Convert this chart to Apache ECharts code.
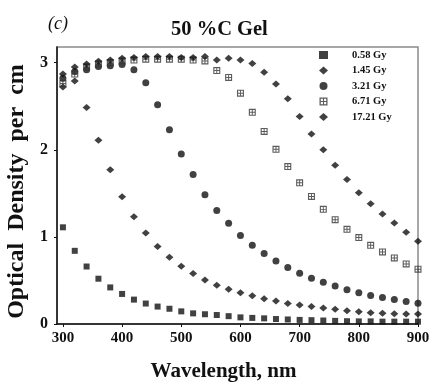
<!DOCTYPE html>
<html>
<head>
<meta charset="utf-8">
<script src="https://cdn.jsdelivr.net/npm/echarts@6/dist/echarts.min.js"></script>
<style>
html,body{margin:0;padding:0;background:#fff;}
#chart{width:441px;height:387px;}
</style>
</head>
<body>
<div id="chart"></div>
<script>
// Wavelengths (nm)
const wavelengths = [300,320,340,360,380,400,420,440,460,480,500,520,540,560,580,600,620,640,660,680,700,720,740,760,780,800,820,840,860,880,900];
// Optical density per cm for each dose
const od058 = [1.11,0.84,0.66,0.52,0.42,0.345,0.28,0.235,0.20,0.175,0.145,0.122,0.112,0.103,0.09,0.076,0.07,0.065,0.057,0.052,0.047,0.044,0.04,0.036,0.032,0.03,0.03,0.027,0.027,0.027,0.027];
const od145 = [2.72,2.79,2.486,2.11,1.77,1.46,1.23,1.045,0.89,0.767,0.664,0.58,0.505,0.446,0.40,0.358,0.324,0.29,0.263,0.236,0.217,0.20,0.183,0.168,0.152,0.141,0.13,0.122,0.118,0.114,0.114];
const od321 = [2.82,2.90,2.92,2.955,2.965,2.98,2.918,2.77,2.517,2.231,1.953,1.716,1.484,1.304,1.156,1.015,0.904,0.809,0.724,0.649,0.584,0.526,0.48,0.435,0.392,0.358,0.328,0.303,0.28,0.258,0.238];
const od671 = [2.76,2.87,2.95,2.985,3.0,3.02,3.03,3.04,3.04,3.04,3.04,3.03,3.02,2.91,2.83,2.65,2.43,2.21,2.006,1.808,1.621,1.465,1.316,1.198,1.087,0.992,0.904,0.827,0.759,0.69,0.629];
const od1721 = [2.87,2.95,2.985,3.015,3.03,3.05,3.06,3.07,3.07,3.07,3.06,3.06,3.07,3.03,3.05,3.03,2.99,2.89,2.754,2.586,2.383,2.18,1.999,1.823,1.659,1.507,1.381,1.262,1.159,1.053,0.95];
const seriesNames = ['0.58 Gy','1.45 Gy','3.21 Gy','6.71 Gy','17.21 Gy'];
const xTicks = [300,400,500,600,700,800,900];
const yTicks = [0,1,2,3];

const serif = "'Liberation Serif','DejaVu Serif',serif";
const ink = '#111';
const boxPlus = 'path://M0 0L10 0L10 10L0 10Z M1.6 1.6L1.6 4.3L4.3 4.3L4.3 1.6Z M5.7 1.6L5.7 4.3L8.4 4.3L8.4 1.6Z M1.6 5.7L1.6 8.4L4.3 8.4L4.3 5.7Z M5.7 5.7L5.7 8.4L8.4 8.4L8.4 5.7Z';
const symbols = ['rect','diamond','circle',boxPlus,'diamond'];
const sizes = [6,[8,7],7,7,[8,7]];
const allData = [od058, od145, od321, od671, od1721];

const chart = echarts.init(document.getElementById('chart'), null, {renderer:'canvas'});
chart.setOption({
  animation:false,
  backgroundColor:'#fff',
  title:[
    {text:'(c)', left:43, top:10, textStyle:{fontFamily:serif, fontStyle:'italic', fontWeight:'normal', fontSize:18, color:ink}},
    {text:'50 %C Gel', left:166, top:14, textStyle:{fontFamily:serif, fontWeight:'bold', fontSize:20.5, color:ink}}
  ],
  grid:{left:57, right:23, top:47, bottom:63, show:true, borderColor:'#8a8a8a', borderWidth:1.5, backgroundColor:'transparent', containLabel:false, outerBoundsMode:'none'},
  legend:{
    orient:'vertical', left:319, top:49, itemWidth:9, itemHeight:8, itemGap:3.5,
    padding:0,
    textStyle:{fontFamily:serif, fontWeight:'bold', fontSize:10.5, color:ink, lineHeight:12, padding:[0,0,0,19]},
    data: seriesNames.map((n,i)=>({name:n, icon: symbols[i]}))
  },
  xAxis:{
    type:'value', min:290, max:900,
    axisLine:{show:true, lineStyle:{color:ink, width:1.5}},
    axisTick:{show:true, length:3, customValues:xTicks, lineStyle:{color:ink}},
    axisLabel:{customValues:xTicks, margin:7, fontFamily:serif, fontWeight:'bold', fontSize:15, color:ink},
    splitLine:{show:false},
    name:'Wavelength, nm', nameLocation:'middle', nameGap:37,
    nameTextStyle:{fontFamily:serif, fontWeight:'bold', fontSize:21, color:ink, padding:[0,28,0,0]}
  },
  yAxis:{
    type:'value', min:0, max:3.18,
    axisLine:{show:true, lineStyle:{color:ink, width:1.5}},
    axisTick:{show:true, length:3, customValues:yTicks, lineStyle:{color:ink}},
    axisLabel:{customValues:yTicks, margin:9, fontFamily:serif, fontWeight:'bold', fontSize:16, color:ink},
    splitLine:{show:false},
    name:'Optical  Density  per  cm', nameLocation:'middle', nameGap:28,
    nameTextStyle:{fontFamily:serif, fontWeight:'bold', fontSize:24, color:ink, padding:[0,12,0,0]}
  },
  series: allData.map((arr,i)=>({
    type:'scatter',
    name:seriesNames[i],
    symbol:symbols[i],
    symbolSize:sizes[i],
    itemStyle:{color: i===3 ? '#333' : ink},
    data: wavelengths.map((w,j)=>[w, arr[j]])
  }))
});
</script>
</body>
</html>
